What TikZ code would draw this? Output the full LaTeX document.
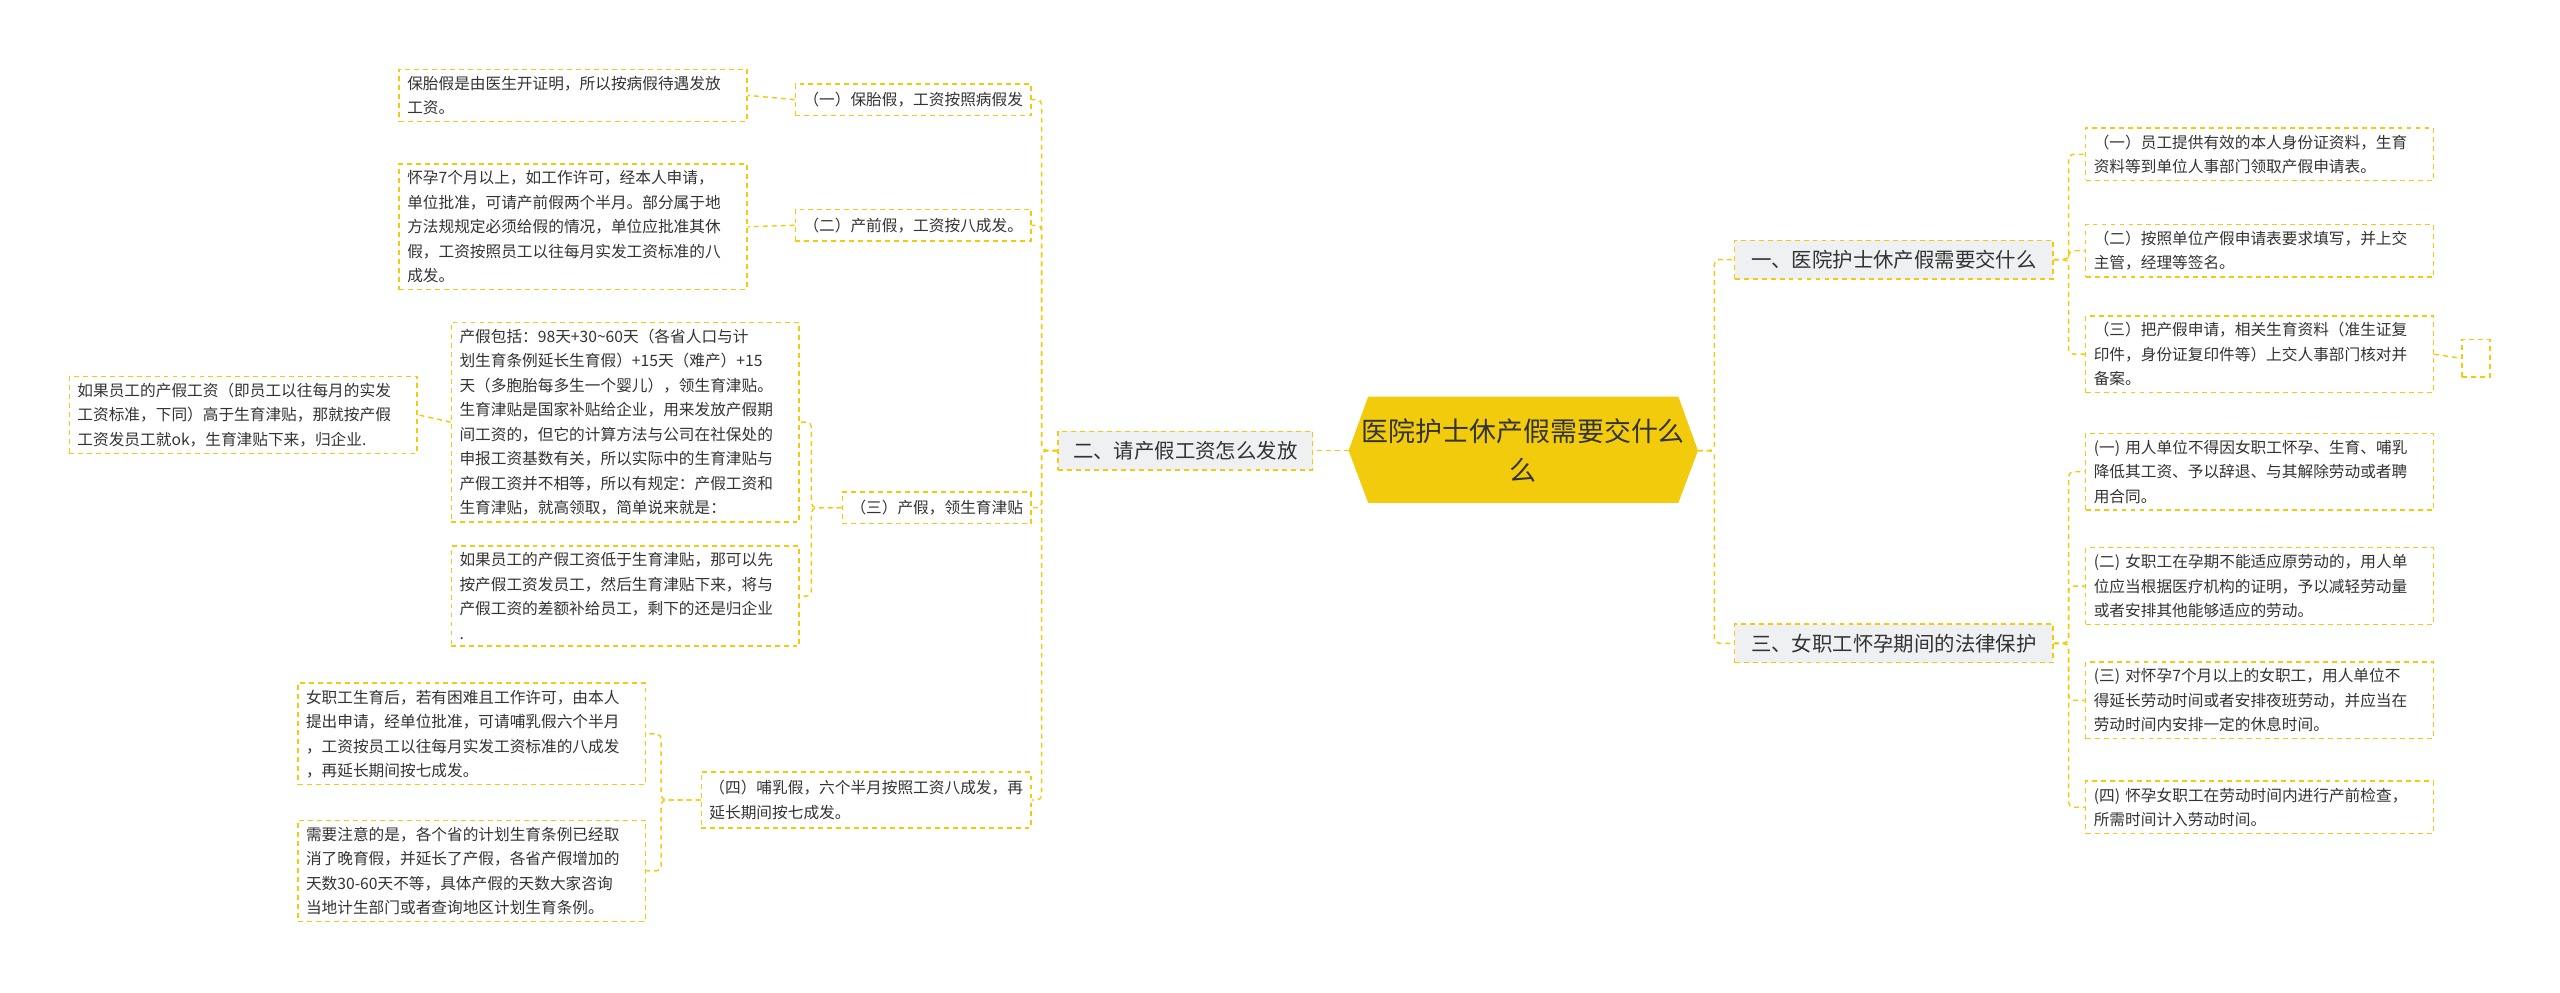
\documentclass[tikz,border=0pt]{standalone}
\usepackage{fontspec}
\setmainfont{Noto Sans CJK SC}
\definecolor{yel}{HTML}{F2CC0C}
\definecolor{gbox}{HTML}{EEF0F2}
\definecolor{txt}{HTML}{333333}
\begin{document}
\begin{tikzpicture}[x=1pt,y=-1pt,
  leaf/.style={draw=yel,dashed,line width=0.9pt,dash pattern=on 3pt off 2.5pt,fill=white,text=txt,
     font=\fontsize{9.6}{15}\selectfont,align=left,text width=203pt,inner xsep=5pt,inner ysep=4pt,anchor=north west},
  branch/.style={draw=yel,line width=0.9pt,dash pattern=on 3pt off 2.5pt,fill=gbox,text=txt,
     font=\fontsize{12.5}{16}\selectfont,inner xsep=6pt,inner ysep=6pt},
  sub/.style={draw=yel,line width=0.9pt,dash pattern=on 3pt off 2.5pt,fill=white,text=txt,
     font=\fontsize{9.6}{15}\selectfont,align=left,inner xsep=5pt,inner ysep=5pt},
  link/.style={draw=yel,line width=0.9pt,dash pattern=on 3pt off 2.5pt,rounded corners=3pt}]
\useasboundingbox (0,0) rectangle (1568,608);
% center
\fill[yel] (826,276)--(838,243)--(1028,243)--(1040,276)--(1028,308)--(838,308)--cycle;
\node[font=\fontsize{16.5}{24}\selectfont,text=txt,align=center,minimum width=214pt,minimum height=65pt] (c) at (933,276) {医院护士休产假需要交什么\\么};
% right branches
\node[branch,minimum width=195pt] (r1) at (1160,159) {一、医院护士休产假需要交什么};
\node[branch,minimum width=195pt] (r3) at (1160,394) {三、女职工怀孕期间的法律保护};
\node[leaf] (a1) at (1277,78) {（一）员工提供有效的本人身份证资料，生育\\资料等到单位人事部门领取产假申请表。};
\node[leaf] (a2) at (1277,137) {（二）按照单位产假申请表要求填写，并上交\\主管，经理等签名。};
\node[leaf] (a3) at (1277,193) {（三）把产假申请，相关生育资料（准生证复\\印件，身份证复印件等）上交人事部门核对并\\备案。};
\node[draw=yel,line width=0.9pt,dash pattern=on 3pt off 2.5pt,minimum width=17pt,minimum height=23pt,inner sep=0pt] (e) at (1516.5,219.5) {};
\node[leaf] (b1) at (1277,265) {(一) 用人单位不得因女职工怀孕、生育、哺乳\\降低其工资、予以辞退、与其解除劳动或者聘\\用合同。};
\node[leaf] (b2) at (1277,335) {(二) 女职工在孕期不能适应原劳动的，用人单\\位应当根据医疗机构的证明，予以减轻劳动量\\或者安排其他能够适应的劳动。};
\node[leaf] (b3) at (1277,405) {(三) 对怀孕7个月以上的女职工，用人单位不\\得延长劳动时间或者安排夜班劳动，并应当在\\劳动时间内安排一定的休息时间。};
\node[leaf] (b4) at (1277,478) {(四) 怀孕女职工在劳动时间内进行产前检查，\\所需时间计入劳动时间。};
% left branch
\node[branch,minimum width=156pt] (l2) at (726,276) {二、请产假工资怎么发放};
\node[sub,anchor=east] (s1) at (632,61) {（一）保胎假，工资按照病假发};
\node[sub,anchor=east] (s2) at (632,138) {（二）产前假，工资按八成发。};
\node[sub,anchor=east] (s3) at (632,311) {（三）产假，领生育津贴};
\node[sub,anchor=east] (s4) at (632,490) {（四）哺乳假，六个半月按照工资八成发，再\\延长期间按七成发。};
\node[leaf] (g1) at (244,42) {保胎假是由医生开证明，所以按病假待遇发放\\工资。};
\node[leaf] (g2) at (244,100) {怀孕7个月以上，如工作许可，经本人申请，\\单位批准，可请产前假两个半月。部分属于地\\方法规规定必须给假的情况，单位应批准其休\\假，工资按照员工以往每月实发工资标准的八\\成发。};
\node[leaf] (g3) at (276,197) {产假包括：98天+30\textasciitilde60天（各省人口与计\\划生育条例延长生育假）+15天（难产）+15\\天（多胞胎每多生一个婴儿），领生育津贴。\\生育津贴是国家补贴给企业，用来发放产假期\\间工资的，但它的计算方法与公司在社保处的\\申报工资基数有关，所以实际中的生育津贴与\\产假工资并不相等，所以有规定：产假工资和\\生育津贴，就高领取，简单说来就是：};
\node[leaf] (g4) at (42,230) {如果员工的产假工资（即员工以往每月的实发\\工资标准，下同）高于生育津贴，那就按产假\\工资发员工就ok，生育津贴下来，归企业.};
\node[leaf] (g5) at (276,334) {如果员工的产假工资低于生育津贴，那可以先\\按产假工资发员工，然后生育津贴下来，将与\\产假工资的差额补给员工，剩下的还是归企业\\.};
\node[leaf] (g6) at (182,418) {女职工生育后，若有困难且工作许可，由本人\\提出申请，经单位批准，可请哺乳假六个半月\\，工资按员工以往每月实发工资标准的八成发\\，再延长期间按七成发。};
\node[leaf] (g7) at (182,502) {需要注意的是，各个省的计划生育条例已经取\\消了晚育假，并延长了产假，各省产假增加的\\天数30-60天不等，具体产假的天数大家咨询\\当地计生部门或者查询地区计划生育条例。};
% links
\draw[link] (1040,276) -- (1050,276) |- (r1.west);
\draw[link] (1040,276) -- (1050,276) |- (r3.west);
\draw[link] (826,276) -- (l2.east);
\foreach \n in {a1,a2,a3} \draw[link] (r1.east) -- (1267,159) |- (\n.west);
\draw[link] (a3.east) -- (e.west);
\foreach \n in {b1,b2,b3,b4} \draw[link] (r3.east) -- (1267,394) |- (\n.west);
\foreach \n in {s1,s2,s3,s4} \draw[link] (l2.west) -- (638,276) |- (\n.east);
\draw[link] (s1.west) -- (g1.east);
\draw[link] (s2.west) -- (g2.east);
\draw[link] (s3.west) -- (497,311) |- (g3.east);
\draw[link] (s3.west) -- (497,311) |- (g5.east);
\draw[link] (g3.west) -- (g4.east);
\draw[link] (s4.west) -- (405,490) |- (g6.east);
\draw[link] (s4.west) -- (405,490) |- (g7.east);
\end{tikzpicture}
\end{document}
